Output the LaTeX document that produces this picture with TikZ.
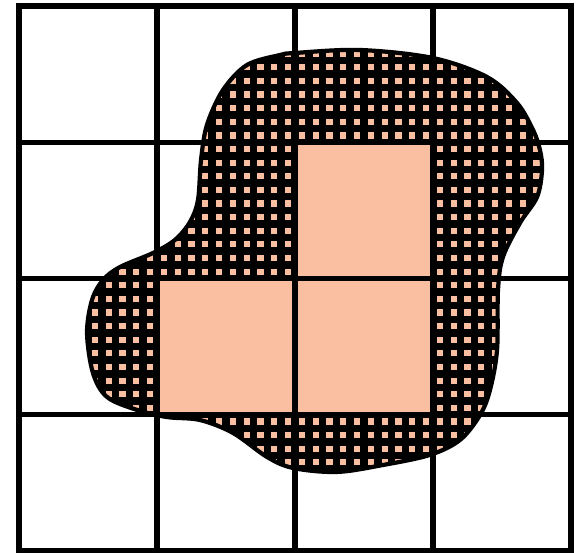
\documentclass[tikz,border=0pt]{standalone}
\usepackage{tikz}
\definecolor{peach}{RGB}{250,190,160}
\tikzset{
    cellgrid/.style={line width=3.8pt, black},
    outline/.style={line width=3pt, black},
    hatch/.style={line width=5.3pt, black},
    blobfill/.style={fill=peach},
}
\newcommand{\blobpath}{plot[smooth cycle, tension=0.55] coordinates {
    (2.0,3.655) (2.471,3.677) (3.0,3.618) (3.391,3.479) (3.609,3.288)
    (3.725,3.090) (3.775,2.943) (3.790,2.796) (3.754,2.598) (3.630,2.407)
    (3.507,2.158) (3.471,1.916) (3.464,1.475) (3.413,1.182) (3.341,0.998)
    (3.196,0.815) (2.978,0.705) (2.638,0.631) (2.304,0.580) (1.986,0.609)
    (1.797,0.690) (1.551,0.866) (1.312,0.961) (1.072,0.983) (0.855,1.035)
    (0.638,1.130) (0.536,1.306) (0.493,1.600) (0.529,1.842) (0.609,1.989)
    (0.732,2.084) (0.971,2.187) (1.130,2.283) (1.239,2.415) (1.297,2.576)
    (1.319,2.870) (1.362,3.127) (1.478,3.383) (1.652,3.567) (1.891,3.640)}}

\begin{document}
\begin{tikzpicture}[x=3.45cm, y=3.406cm]
    \useasboundingbox (-0.1377,-0.0147) rectangle (4.0797,4.044);
    \fill[blobfill] \blobpath;
    \begin{scope}
        \clip \blobpath;
        \foreach \i in {0,...,40} {
            \draw[hatch] (\i/10,0) -- (\i/10,4);
            \draw[hatch] (0,\i/10) -- (4,\i/10);
        }
    \end{scope}
    \fill[blobfill] (2,2) rectangle (3,3);
    \fill[blobfill] (1,1) rectangle (3,2);
    \draw[outline] \blobpath;
    \foreach \i in {1,2,3} {
        \draw[cellgrid] (\i,0) -- (\i,4);
        \draw[cellgrid] (0,\i) -- (4,\i);
    }
    \draw[cellgrid] (0,0) rectangle (4,4);
\end{tikzpicture}
\end{document}
